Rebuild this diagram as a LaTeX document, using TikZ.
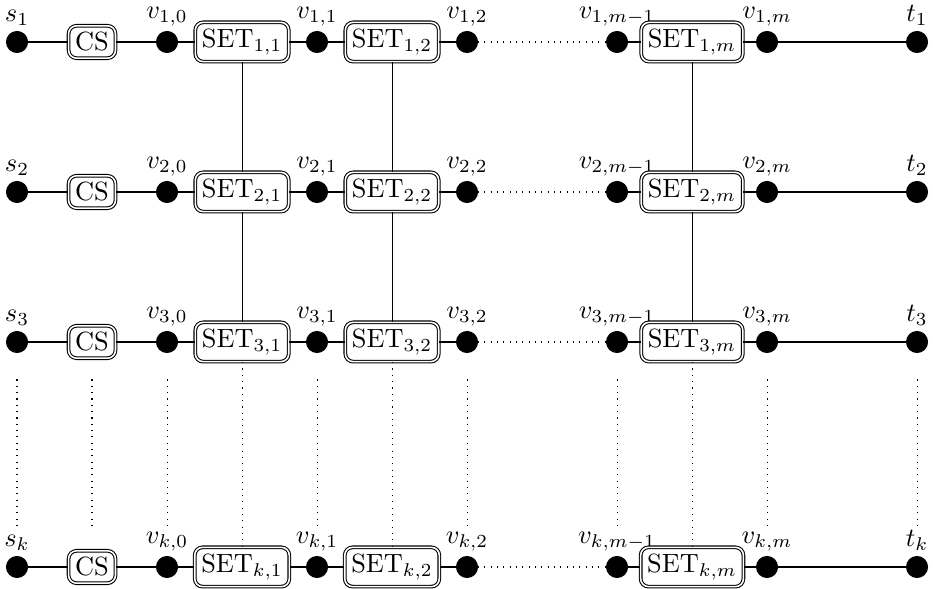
\documentclass[tikz,border=0pt]{standalone}
\usepackage{amsmath}
\usepackage{amssymb}
\usepackage{tikz}
\usetikzlibrary{calc}

\begin{document}
\begin{tikzpicture}
\tikzset{
	solid node/.style = {circle, draw, fill = black, minimum size = 0.28cm, inner sep = 0},
	box node/.style = {draw, double, rounded corners = 3pt, inner sep = 2.5pt},
	every label/.append style = {yshift = -1.5pt},
}
\useasboundingbox (-0.227,0.56) rectangle (12.213,-7.293);

\foreach \r/\y in {1/0, 2/-2, 3/-4, k/-7}{
	\node(s\r)[solid node, label = {above:$s_{\r}$}] at (0,\y){};
	\node(c\r)[box node] at (1,\y){CS};
	\node(v\r-0)[solid node, label = {above:$v_{\r,0}$}] at (2,\y){};
	\node(S\r-1)[box node] at (3,\y){SET$_{\r,1}$};
	\node(v\r-1)[solid node, label = {above:$v_{\r,1}$}] at (4,\y){};
	\node(S\r-2)[box node] at (5,\y){SET$_{\r,2}$};
	\node(v\r-2)[solid node, label = {above:$v_{\r,2}$}] at (6,\y){};
	\node(v\r-p)[solid node, label = {above:$v_{\r,m-1}$}] at (8,\y){};
	\node(S\r-m)[box node] at (9,\y){SET$_{\r,m}$};
	\node(v\r-m)[solid node, label = {above:$v_{\r,m}$}] at (10,\y){};
	\node(t\r)[solid node, label = {above:$t_{\r}$}] at (12,\y){};
	\draw (s\r) -- (c\r) -- (v\r-0) -- (S\r-1) -- (v\r-1) -- (S\r-2) -- (v\r-2);
	\draw [dotted] (v\r-2) -- (v\r-p);
	\draw (v\r-p) -- (S\r-m) -- (v\r-m) -- (t\r);
}

\foreach \c in {1,2,m}{
	\draw (S1-\c) -- (S2-\c) -- (S3-\c);
	\draw [dotted] (S3-\c) -- (Sk-\c);
}
\foreach \a/\b in {s3/sk, c3/ck, v3-0/vk-0, v3-1/vk-1, v3-2/vk-2, v3-p/vk-p, v3-m/vk-m, t3/tk}{
	\draw [dotted] ($(\a)+(0,-0.5)$) -- ($(\b)+(0,0.52)$);
}

\end{tikzpicture}
\end{document}
